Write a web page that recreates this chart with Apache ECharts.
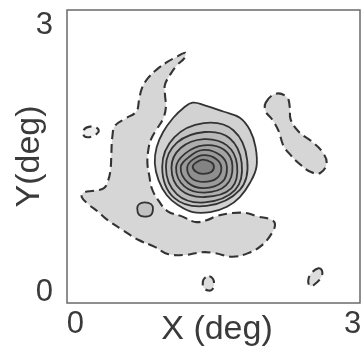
<!DOCTYPE html>
<html><head><meta charset="utf-8">
<script src="https://cdn.jsdelivr.net/npm/echarts@6/dist/echarts.min.js"></script>
<style>html,body{margin:0;padding:0;background:#fff}#c{width:362px;height:355px}</style>
</head><body><div id="c"></div>
<script>
// Tick labels (deg)
const xTicks = [0, 3];
const yTicks = [0, 3];

// Negative (dashed) contour regions, [x deg, y deg]
const crescentNeg = [[1.19,2.69],[1.09,2.64],[1.00,2.59],[0.88,2.50],[0.79,2.41],[0.72,2.29],[0.69,2.16],[0.66,2.03],[0.54,1.95],[0.43,1.87],[0.40,1.74],[0.39,1.56],[0.38,1.37],[0.35,1.24],[0.31,1.17],[0.20,1.14],[0.09,1.12],[0.07,1.07],[0.14,0.99],[0.24,0.91],[0.35,0.81],[0.51,0.70],[0.68,0.59],[0.86,0.51],[1.00,0.43],[1.19,0.42],[1.37,0.45],[1.51,0.44],[1.70,0.40],[1.87,0.44],[2.02,0.53],[2.13,0.67],[2.16,0.77],[2.11,0.82],[1.98,0.85],[1.85,0.89],[1.70,0.89],[1.54,0.86],[1.42,0.81],[1.30,0.79],[1.16,0.85],[1.00,0.91],[0.90,1.03],[0.83,1.16],[0.80,1.31],[0.78,1.45],[0.79,1.60],[0.82,1.72],[0.88,1.83],[0.95,1.95],[0.98,2.08],[0.97,2.22],[0.97,2.33],[1.03,2.45],[1.10,2.55],[1.18,2.63]];
const rightNeg = [[2.06,2.13],[2.17,2.23],[2.29,2.19],[2.32,2.08],[2.33,1.94],[2.42,1.80],[2.55,1.70],[2.67,1.58],[2.72,1.45],[2.65,1.34],[2.55,1.35],[2.44,1.43],[2.33,1.54],[2.25,1.65],[2.20,1.81],[2.13,1.94],[2.06,2.03]];
const islandNeg = [[0.09,1.82],[0.16,1.86],[0.24,1.84],[0.25,1.80],[0.18,1.75],[0.10,1.75]];
const ovalNegA = [[1.45,0.18],[1.49,0.15],[1.50,0.09],[1.48,0.03],[1.44,0.02],[1.39,0.05],[1.38,0.12],[1.40,0.16]];
const ovalNegB = [[2.63,0.27],[2.67,0.24],[2.66,0.17],[2.59,0.09],[2.54,0.07],[2.52,0.13],[2.55,0.21]];

// Positive (solid) contours
const spotPos = [[0.75,1.01],[0.82,0.99],[0.84,0.94],[0.82,0.87],[0.75,0.85],[0.69,0.87],[0.67,0.94],[0.69,0.99]];
const level1 = [[1.27,2.13],[1.40,2.10],[1.60,2.03],[1.78,1.96],[1.89,1.82],[1.95,1.63],[1.96,1.41],[1.89,1.23],[1.78,1.07],[1.64,0.96],[1.46,0.90],[1.27,0.90],[1.11,0.98],[0.99,1.09],[0.90,1.26],[0.86,1.45],[0.88,1.63],[0.95,1.80],[1.06,1.96],[1.17,2.07]];
const level2 = [[1.39,1.90],[1.71,1.82],[1.86,1.48],[1.78,1.15],[1.42,0.97],[1.07,1.06],[0.94,1.41],[1.07,1.74]];
const level3 = [[1.40,1.80],[1.67,1.73],[1.80,1.45],[1.73,1.15],[1.40,1.01],[1.10,1.10],[0.98,1.41],[1.10,1.68]];
const level4 = [[1.39,1.72],[1.64,1.65],[1.75,1.43],[1.69,1.17],[1.40,1.07],[1.14,1.15],[1.04,1.40],[1.14,1.62]];
const level5 = [[1.39,1.65],[1.61,1.60],[1.70,1.42],[1.63,1.20],[1.40,1.12],[1.18,1.19],[1.09,1.40],[1.19,1.56]];
const level6 = [[1.39,1.60],[1.57,1.54],[1.64,1.41],[1.59,1.24],[1.39,1.17],[1.22,1.23],[1.14,1.40],[1.23,1.52]];
const level7 = [[1.39,1.54],[1.52,1.50],[1.58,1.40],[1.53,1.28],[1.39,1.24],[1.26,1.28],[1.21,1.40],[1.27,1.49]];
const level8 = [[1.38,1.49],[1.47,1.46],[1.50,1.41],[1.47,1.35],[1.38,1.33],[1.31,1.35],[1.27,1.41],[1.31,1.46]];

const contours = [
  {pts: crescentNeg, dash: true, fill: '#d6d6d6'},
  {pts: rightNeg, dash: true, fill: '#d6d6d6'},
  {pts: islandNeg, dash: true, fill: '#eeeeee'},
  {pts: ovalNegA, dash: true, fill: '#dddddd'},
  {pts: ovalNegB, dash: true, fill: '#dddddd'},
  {pts: spotPos, dash: false, fill: '#c2c2c2'},
  {pts: level1, dash: false, fill: '#d2d2d2'},
  {pts: level2, dash: false, fill: '#c4c4c4'},
  {pts: level3, dash: false, fill: '#b9b9b9'},
  {pts: level4, dash: false, fill: '#aeaeae'},
  {pts: level5, dash: false, fill: '#a4a4a4'},
  {pts: level6, dash: false, fill: '#9a9a9a'},
  {pts: level7, dash: false, fill: '#8f8f8f'},
  {pts: level8, dash: false, fill: '#838383'}
];

const FONT = 'Liberation Sans, Arial, sans-serif';
const chart = echarts.init(document.getElementById('c'), null, {renderer: 'canvas'});
chart.setOption({
  animation: false,
  backgroundColor: '#fff',
  grid: {left: 67, top: 10, width: 293, height: 293, containLabel: false, outerBoundsMode: 'none',
         show: true, borderColor: '#6a6a6a', borderWidth: 1.5, backgroundColor: '#fff'},
  xAxis: {
    type: 'value', min: -0.09, max: 3.08,
    name: 'X (deg)', nameLocation: 'middle', nameGap: 10, nameMoveOverlap: false,
    nameTextStyle: {fontSize: 34, color: '#3a3a3a', fontFamily: FONT, padding: [0, 0, 0, 7]},
    axisLine: {show: false}, axisTick: {show: false}, splitLine: {show: false},
    axisLabel: {customValues: xTicks, fontSize: 31, color: '#3a3a3a', margin: 6, fontFamily: FONT}
  },
  yAxis: {
    type: 'value', min: -0.12, max: 3.17,
    name: 'Y(deg)', nameLocation: 'middle', nameGap: 20, nameRotate: 90, nameMoveOverlap: false,
    nameTextStyle: {fontSize: 34, color: '#3a3a3a', fontFamily: FONT},
    axisLine: {show: false}, axisTick: {show: false}, splitLine: {show: false},
    axisLabel: {customValues: yTicks, fontSize: 31, color: '#3a3a3a', margin: 14, fontFamily: FONT}
  },
  series: [{
    type: 'custom',
    coordinateSystem: 'cartesian2d',
    clip: true,
    encode: {x: 0, y: 1},
    data: contours.map(function (c, i) { return [c.pts[0][0], c.pts[0][1], i]; }),
    renderItem: function (params, api) {
      const c = contours[params.dataIndex];
      const pts = c.pts.map(function (p) { return api.coord(p); });
      return {
        type: 'polygon',
        shape: {points: pts, smooth: 0.4},
        style: {
          fill: c.fill,
          stroke: '#333333',
          lineWidth: c.dash ? 2.1 : 1.8,
          lineDash: c.dash ? [9, 5] : null
        }
      };
    }
  }]
});
</script>
</body></html>
